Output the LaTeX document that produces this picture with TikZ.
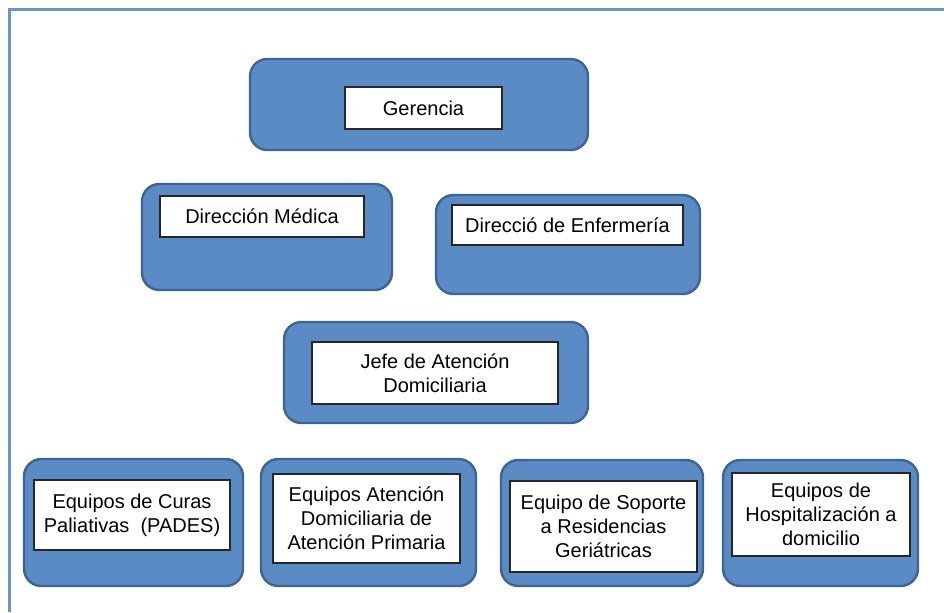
\documentclass[tikz,border=0pt]{standalone}
\usepackage{fontspec}
\setmainfont{Liberation Sans}
\usepackage{tikz}
\usepackage{xcolor}
\definecolor{orgblue}{RGB}{90,139,197}
\definecolor{orgedge}{RGB}{62,100,146}
\definecolor{orgframe}{RGB}{104,148,204}
\tikzstyle{unit} = [rectangle, rounded corners=13pt, draw=orgedge, fill=orgblue, line width=1.8pt]
\tikzstyle{post} = [rectangle, draw=black!85, fill=white, line width=0.8pt, align=center, inner sep=0pt, font=\fontsize{15}{18}\selectfont]

\begin{document}
\begin{tikzpicture}[x=0.75pt, y=-0.75pt]
\useasboundingbox (0,0) rectangle (944,612);
% page frame, only top and left edges show
\draw[orgframe, line width=2.2pt] (9.5,612) -- (9.5,9.5) -- (944,9.5);

% management
\node (gerencia) [unit, minimum width=253.5pt, minimum height=68.25pt] at (419,104.5) {};
\node (medica) [unit, minimum width=187.5pt, minimum height=79.5pt] at (267,237) {};
\node (enfermeria) [unit, minimum width=198pt, minimum height=74.25pt] at (568,244.5) {};
\node (jefe) [unit, minimum width=228pt, minimum height=75.75pt] at (436,372.5) {};

% teams
\node (curas) [unit, minimum width=164.25pt, minimum height=95.25pt] at (133.5,522.5) {};
\node (primaria) [unit, minimum width=161.25pt, minimum height=95.25pt] at (368.5,522.5) {};
\node (residencias) [unit, minimum width=151.5pt, minimum height=94.5pt] at (602,523) {};
\node (hospital) [unit, minimum width=146.25pt, minimum height=94.5pt] at (820.5,523) {};

% labels
\node (gerenciaT) [post, minimum width=117.75pt, minimum height=31.5pt] at (423.5,108) {Gerencia};
\node (medicaT) [post, minimum width=153pt, minimum height=30.75pt] at (262,216.5) {Dirección Médica};
\node (enfermeriaT) [post, minimum width=173.25pt, minimum height=30pt] at (567.5,225) {Direcció de Enfermería};
\node (jefeT) [post, minimum width=184.5pt, minimum height=46.5pt] at (435,373) {Jefe de Atención\\Domiciliaria};
\node (curasT) [post, minimum width=147pt, minimum height=52.5pt] at (132,515) {Equipos de Curas\\Paliativas~~(PADES)};
\node (primariaT) [post, minimum width=140.25pt, minimum height=66.75pt] at (366.5,518.5) {Equipos Atención\\Domiciliaria de\\Atención Primaria};
\node (residenciasT) [post, minimum width=140.25pt, minimum height=68.25pt] at (603.5,526.5) {Equipo de Soporte\\a Residencias\\Geriátricas};
\node (hospitalT) [post, minimum width=133.5pt, minimum height=62.25pt] at (821,514.5) {Equipos de\\Hospitalización a\\domicilio};
\end{tikzpicture}
\end{document}
